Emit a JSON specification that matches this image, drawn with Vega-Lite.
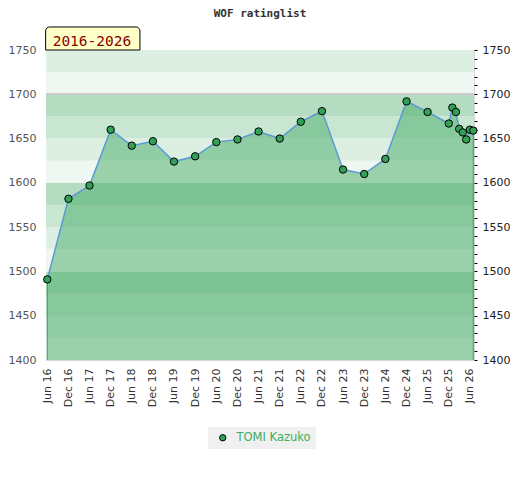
{
  "$schema": "https://vega.github.io/schema/vega-lite/v6.json",
  "width": 428,
  "height": 310,
  "autosize": {"type": "none"},
  "padding": {"left": 46, "top": 50, "right": 46, "bottom": 120},
  "background": "white",
  "title": {
    "text": "WOF ratinglist",
    "font": "DejaVu Sans Mono",
    "fontSize": 11,
    "fontWeight": "bold",
    "color": "#333333",
    "anchor": "middle",
    "offset": 7
  },
  "config": {
    "view": {"stroke": "#d8d8d8", "strokeWidth": 1},
    "axis": {"labelFont": "DejaVu Sans", "labelFontSize": 11, "grid": false, "domain": false},
    "axisX": {"labelAngle": 270, "ticks": false, "labelPadding": 8, "labelColor": "#333333", "labelOverlap": false, "title": null, "tickCount": 40}
  },
  "datasets": {
    "ratings": [
      {"date": "2016-06-01", "rating": 1491, "player": "TOMI Kazuko"},
      {"date": "2016-12-01", "rating": 1582, "player": "TOMI Kazuko"},
      {"date": "2017-06-01", "rating": 1597, "player": "TOMI Kazuko"},
      {"date": "2017-12-01", "rating": 1660, "player": "TOMI Kazuko"},
      {"date": "2018-06-01", "rating": 1642, "player": "TOMI Kazuko"},
      {"date": "2018-12-01", "rating": 1647, "player": "TOMI Kazuko"},
      {"date": "2019-06-01", "rating": 1624, "player": "TOMI Kazuko"},
      {"date": "2019-12-01", "rating": 1630, "player": "TOMI Kazuko"},
      {"date": "2020-06-01", "rating": 1646, "player": "TOMI Kazuko"},
      {"date": "2020-12-01", "rating": 1649, "player": "TOMI Kazuko"},
      {"date": "2021-06-01", "rating": 1658, "player": "TOMI Kazuko"},
      {"date": "2021-12-01", "rating": 1650, "player": "TOMI Kazuko"},
      {"date": "2022-06-01", "rating": 1669, "player": "TOMI Kazuko"},
      {"date": "2022-12-01", "rating": 1681, "player": "TOMI Kazuko"},
      {"date": "2023-06-01", "rating": 1615, "player": "TOMI Kazuko"},
      {"date": "2023-12-01", "rating": 1610, "player": "TOMI Kazuko"},
      {"date": "2024-06-01", "rating": 1627, "player": "TOMI Kazuko"},
      {"date": "2024-12-01", "rating": 1692, "player": "TOMI Kazuko"},
      {"date": "2025-06-01", "rating": 1680, "player": "TOMI Kazuko"},
      {"date": "2025-12-01", "rating": 1667, "player": "TOMI Kazuko"},
      {"date": "2026-01-01", "rating": 1685, "player": "TOMI Kazuko"},
      {"date": "2026-02-01", "rating": 1680, "player": "TOMI Kazuko"},
      {"date": "2026-03-01", "rating": 1661, "player": "TOMI Kazuko"},
      {"date": "2026-04-01", "rating": 1657, "player": "TOMI Kazuko"},
      {"date": "2026-05-01", "rating": 1649, "player": "TOMI Kazuko"},
      {"date": "2026-06-01", "rating": 1660, "player": "TOMI Kazuko"},
      {"date": "2026-07-01", "rating": 1659, "player": "TOMI Kazuko"}
    ],
    "bands": [
      {"lo": 1400, "hi": 1425, "level": "a"},
      {"lo": 1425, "hi": 1450, "level": "b"},
      {"lo": 1450, "hi": 1475, "level": "c"},
      {"lo": 1475, "hi": 1500, "level": "d"},
      {"lo": 1500, "hi": 1525, "level": "a"},
      {"lo": 1525, "hi": 1550, "level": "b"},
      {"lo": 1550, "hi": 1575, "level": "c"},
      {"lo": 1575, "hi": 1600, "level": "d"},
      {"lo": 1600, "hi": 1625, "level": "a"},
      {"lo": 1625, "hi": 1650, "level": "b"},
      {"lo": 1650, "hi": 1675, "level": "c"},
      {"lo": 1675, "hi": 1700, "level": "d"},
      {"lo": 1700, "hi": 1725, "level": "a"},
      {"lo": 1725, "hi": 1750, "level": "b"}
    ],
    "note": [{"label": "2016-2026"}]
  },
  "layer": [
    {
      "data": {"name": "bands"},
      "mark": {"type": "rect"},
      "encoding": {
        "y": {"field": "lo", "type": "quantitative", "axis": null, "scale": {"domain": [1400, 1750], "zero": false, "nice": false}},
        "y2": {"field": "hi"},
        "fill": {"field": "level", "type": "nominal", "legend": null,
                 "scale": {"domain": ["a", "b", "c", "d"], "range": ["#eef7f1", "#dcefe2", "#c8e6d2", "#b3dcc1"]}}
      }
    },
    {
      "data": {"name": "bands"},
      "mark": {"type": "rule", "color": "#cccccc", "strokeWidth": 1},
      "encoding": {"y": {"datum": 1700, "type": "quantitative", "axis": null}}
    },
    {
      "data": {"name": "ratings"},
      "encoding": {
        "x": {
          "field": "date",
          "type": "temporal",
          "title": null,
          "scale": {"domain": [{"year": 2016, "month": 5, "date": 21}, {"year": 2026, "month": 7, "date": 7}]},
          "axis": {
            "values": [
              {"year": 2016, "month": 6, "date": 1}, {"year": 2016, "month": 12, "date": 1},
              {"year": 2017, "month": 6, "date": 1}, {"year": 2017, "month": 12, "date": 1},
              {"year": 2018, "month": 6, "date": 1}, {"year": 2018, "month": 12, "date": 1},
              {"year": 2019, "month": 6, "date": 1}, {"year": 2019, "month": 12, "date": 1},
              {"year": 2020, "month": 6, "date": 1}, {"year": 2020, "month": 12, "date": 1},
              {"year": 2021, "month": 6, "date": 1}, {"year": 2021, "month": 12, "date": 1},
              {"year": 2022, "month": 6, "date": 1}, {"year": 2022, "month": 12, "date": 1},
              {"year": 2023, "month": 6, "date": 1}, {"year": 2023, "month": 12, "date": 1},
              {"year": 2024, "month": 6, "date": 1}, {"year": 2024, "month": 12, "date": 1},
              {"year": 2025, "month": 6, "date": 1}, {"year": 2025, "month": 12, "date": 1},
              {"year": 2026, "month": 6, "date": 1}
            ],
            "format": "%b %y",
            "tickCount": 40,
            "labelOverlap": false
          }
        }
      },
      "layer": [
        {
          "mark": {"type": "area", "color": "#46ab65", "opacity": 0.5},
          "encoding": {
            "y": {"field": "rating", "type": "quantitative", "axis": null},
            "y2": {"datum": 1400}
          }
        },
        {
          "transform": [{"filter": "year(datum.date) == 2016 && month(datum.date) == 5 || year(datum.date) == 2026 && month(datum.date) == 6"}],
          "mark": {"type": "rule", "color": "#3a9a5a", "strokeWidth": 1},
          "encoding": {
            "y": {"field": "rating", "type": "quantitative", "axis": null},
            "y2": {"datum": 1400}
          }
        },
        {
          "mark": {"type": "line", "color": "#5b9bd5", "strokeWidth": 1.5},
          "encoding": {
            "y": {"field": "rating", "type": "quantitative", "title": null,
                  "axis": {"orient": "left", "ticks": false, "labelPadding": 10, "labelColor": "#555555", "format": "d", "values": [1400, 1450, 1500, 1550, 1600, 1650, 1700, 1750]}}
          }
        },
        {
          "mark": {"type": "point", "filled": true, "shape": "circle", "size": 55, "stroke": "black", "strokeWidth": 1, "opacity": 1},
          "encoding": {
            "y": {"field": "rating", "type": "quantitative", "title": null,
                  "axis": {"orient": "right", "tickCount": 35, "tickSize": 3, "tickColor": "#000000", "labelPadding": 5, "labelColor": "#222222", "labelOverlap": false, "format": "d",
                           "labelExpr": "datum.value % 50 == 0 ? datum.label : ''"}},
            "color": {
              "field": "player", "type": "nominal",
              "scale": {"range": ["#33a058"]},
              "legend": {
                "title": null, "orient": "none", "legendX": 162, "legendY": 377,
                "fillColor": "#f0f0f0", "padding": 5, "symbolOffset": 4, "labelOffset": 8,
                "symbolType": "circle", "symbolSize": 40, "symbolStrokeColor": "black", "symbolStrokeWidth": 1,
                "labelColor": "#3cae5f", "labelFont": "DejaVu Sans", "labelFontSize": 11.5
              }
            }
          }
        }
      ],
      "resolve": {"axis": {"y": "independent"}}
    },
    {
      "data": {"name": "note"},
      "mark": {"type": "rect", "fill": "#ffffc8", "stroke": "black", "strokeWidth": 1, "cornerRadiusTopLeft": 4, "cornerRadiusTopRight": 4},
      "encoding": {
        "x": {"datum": {"year": 2016, "month": 5, "date": 18}, "type": "temporal"},
        "x2": {"datum": {"year": 2018, "month": 8, "date": 11}},
        "y": {"datum": 1776, "type": "quantitative", "axis": null},
        "y2": {"datum": 1750}
      }
    },
    {
      "data": {"name": "note"},
      "mark": {"type": "text", "font": "DejaVu Sans Mono", "fontSize": 14.5, "color": "#8b0000", "align": "center", "baseline": "alphabetic"},
      "encoding": {
        "x": {"datum": {"year": 2017, "month": 6, "date": 22}, "type": "temporal"},
        "y": {"datum": 1754.5, "type": "quantitative", "axis": null},
        "text": {"field": "label"}
      }
    }
  ],
  "resolve": {"axis": {"y": "independent"}}
}
